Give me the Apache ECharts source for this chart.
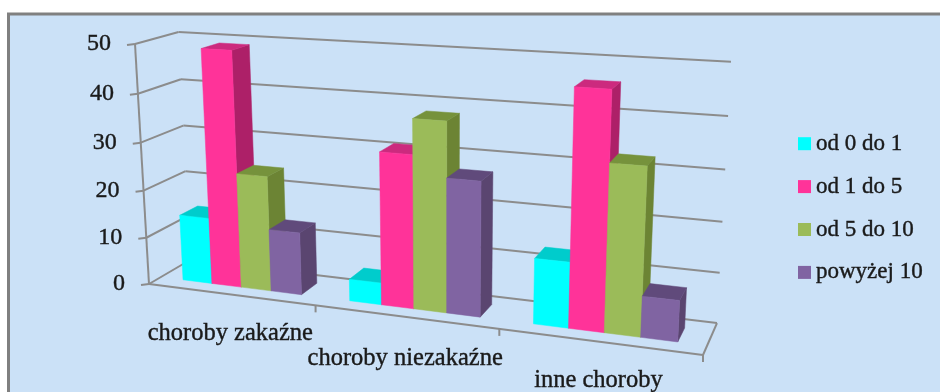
<!DOCTYPE html>
<html>
<head>
<meta charset="utf-8">
<style>html,body{margin:0;padding:0;background:#fff}#chart{width:940px;height:392px}</style>
<script src="https://cdn.jsdelivr.net/npm/echarts@6/dist/echarts.min.js"></script>
</head>
<body>
<div id="chart"></div>
<script>
// Incidence by disease group and age band, drawn as a 3-D column chart.
const categories = ['choroby zakaźne', 'choroby niezakaźne', 'inne choroby'];
const seriesNames = ['od 0 do 1', 'od 1 do 5', 'od 5 do 10', 'powyżej 10'];
const ageInfant = [14, 4.5, 13];
const ageToddler = [49, 31, 46];
const ageChild = [24, 38, 32.5];
const ageTeen = [13, 27, 8];
const valueTicks = [0, 10, 20, 30, 40, 50];

const seriesValues = [ageInfant, ageToddler, ageChild, ageTeen];
const faceColors = [
  { front: '#00FFFF', top: '#00CCCC', side: '#00B0B0' },
  { front: '#FF3399', top: '#CC2A7E', side: '#AD2068' },
  { front: '#9BBB59', top: '#76923C', side: '#6C8434' },
  { front: '#8064A2', top: '#604A7B', side: '#5A4570' }
];
const textColor = '#1A1A1A';

// Projective box: u runs along the categories, v into the depth, h up the value axis.
const origin = [149, 284];
const uCorner = [703, 355];
const vCorner = [190, 260];
const hCorner = [135, 44];
const wU = -0.14, wV = 0.055, wH = -0.045;
const depthFront = 0.28, depthBack = 0.72;
const groupMargin = 0.14;
const labelDrop = [39, 42, 39];

function project(u, v, h) {
  const w = 1 + wU * u + wV * v + wH * h;
  return [0, 1].map(function (i) {
    return (origin[i]
      + u * (uCorner[i] * (1 + wU) - origin[i])
      + v * (vCorner[i] * (1 + wV) - origin[i])
      + h * (hCorner[i] * (1 + wH) - origin[i])) / w;
  });
}

// Convert a data point to unit box coordinates through the hidden cartesian axes.
function toUnit(api, params, cat, val) {
  const rect = params.coordSys;
  const p = api.coord([cat, val]);
  return { u: (p[0] - rect.x) / rect.width, h: (rect.y + rect.height - p[1]) / rect.height };
}

function poly(points, fill) {
  return { type: 'polygon', shape: { points: points }, style: { fill: fill, stroke: fill, lineWidth: 0.5 } };
}

function renderBar(seriesIndex) {
  return function (params, api) {
    const cat = api.value(0);
    const pos = toUnit(api, params, cat, api.value(1));
    const band = api.size([1, 0])[0] / params.coordSys.width;
    const barW = band * (1 - 2 * groupMargin) / seriesNames.length;
    const u0 = pos.u - band / 2 + band * groupMargin + seriesIndex * barW;
    const u1 = u0 + barW;
    const h = pos.h;
    const c = faceColors[seriesIndex];
    return {
      type: 'group',
      children: [
        poly([project(u1, depthFront, 0), project(u1, depthBack, 0), project(u1, depthBack, h), project(u1, depthFront, h)], c.side),
        poly([project(u0, depthFront, h), project(u1, depthFront, h), project(u1, depthBack, h), project(u0, depthBack, h)], c.top),
        poly([project(u0, depthFront, 0), project(u1, depthFront, 0), project(u1, depthFront, h), project(u0, depthFront, h)], c.front)
      ]
    };
  };
}

function line(a, b) {
  return { type: 'line', shape: { x1: a[0], y1: a[1], x2: b[0], y2: b[1] }, style: { stroke: '#8C8C8C', lineWidth: 2 } };
}

function renderWallLine(params, api) {
  const h = toUnit(api, params, 0, api.value(0)).h;
  const front = project(0, 0, h);
  return {
    type: 'group',
    children: [
      line([front[0] - 8, front[1] + 1], front),
      line(front, project(0, 1, h)),
      line(project(0, 1, h), project(1, 1, h)),
      {
        type: 'text',
        style: {
          x: front[0] - 24, y: front[1], text: String(api.value(0)), fill: textColor,
          stroke: textColor, lineWidth: 0.4,
          font: '24px "Liberation Serif"', align: 'right', verticalAlign: 'middle'
        }
      }
    ]
  };
}

function renderFrame(params, api) {
  const band = api.size([1, 0])[0] / params.coordSys.width;
  const children = [
    line(project(0, 0, 0), project(0, 0, 1)),
    line(project(0, 0, 0), project(1, 0, 0)),
    line(project(1, 0, 0), project(1, 1, 0))
  ];
  categories.forEach(function (name, i) {
    const tick = project((i + 1) * band, 0, 0);
    children.push(line(tick, [tick[0], tick[1] + 7]));
  });
  return { type: 'group', children: children };
}

function renderCategoryLabel(params, api) {
  const index = api.value(0);
  const u = toUnit(api, params, index, 0).u;
  const p = project(u, 0, 0);
  return {
    type: 'text',
    style: {
      x: p[0], y: p[1] + labelDrop[index], text: categories[index], fill: textColor,
      stroke: textColor, lineWidth: 0.4,
      font: '24.5px "Liberation Serif"', align: 'center', verticalAlign: 'middle'
    }
  };
}

const barSeries = seriesNames.map(function (name, i) {
  return {
    type: 'custom',
    name: name,
    coordinateSystem: 'cartesian2d',
    renderItem: renderBar(i),
    itemStyle: { color: faceColors[i].front },
    data: seriesValues[i].map(function (v, c) { return [c, v]; }),
    z: 5 + i,
    clip: false
  };
});

const chart = echarts.init(document.getElementById('chart'));
chart.setOption({
  backgroundColor: '#FFFFFF',
  animation: false,
  graphic: [{
    type: 'rect',
    shape: { x: 8.5, y: 14, width: 940, height: 390 },
    style: { fill: '#CBE1F7', stroke: '#808080', lineWidth: 3 },
    z: -10
  }],
  grid: { left: 150, right: 200, top: 50, bottom: 100 },
  xAxis: { type: 'category', data: categories, show: false },
  yAxis: { type: 'value', min: 0, max: 50, interval: 10, show: false },
  legend: {
    orient: 'vertical',
    left: 793,
    top: 127,
    itemWidth: 13,
    itemHeight: 13,
    itemGap: 19.5,
    icon: 'rect',
    selectedMode: false,
    data: seriesNames,
    textStyle: {
      color: textColor, fontFamily: 'Liberation Serif', fontSize: 23,
      textBorderColor: textColor, textBorderWidth: 0.4, padding: [0, 0, 0, 0]
    }
  },
  series: [
    {
      type: 'custom', coordinateSystem: 'cartesian2d', renderItem: renderWallLine, silent: true,
      data: valueTicks.map(function (v) { return [v]; }), encode: { y: 0 }, z: 1, clip: false
    },
    {
      type: 'custom', coordinateSystem: 'cartesian2d', renderItem: renderFrame, silent: true,
      data: [[0]], encode: { x: 0 }, z: 2, clip: false
    },
    {
      type: 'custom', coordinateSystem: 'cartesian2d', renderItem: renderCategoryLabel, silent: true,
      data: categories.map(function (n, i) { return [i]; }), encode: { x: 0 }, z: 3, clip: false
    }
  ].concat(barSeries)
});
</script>
</body>
</html>
